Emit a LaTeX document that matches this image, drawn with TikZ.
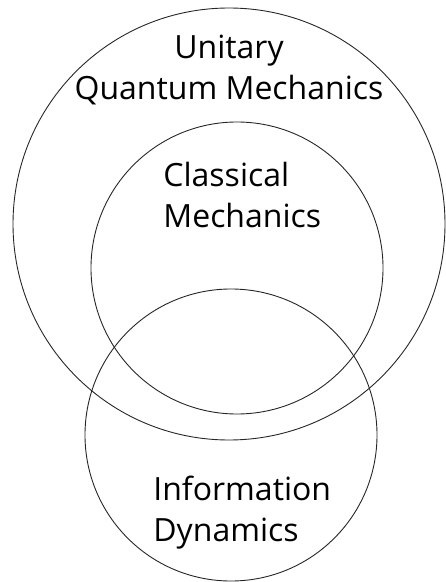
\documentclass[tikz,border=0pt]{standalone}
\usepackage{fontspec}
\setmainfont{Open Sans}
\usetikzlibrary{positioning}
\tikzset{
  realm/.style={circle, draw=black!85, line width=0.45pt, inner sep=0pt},
  realmlabel/.style={font=\fontsize{16}{20.5}\selectfont, inner sep=0pt},
}
\begin{document}
\begin{tikzpicture}[x=0.5pt, y=-0.5pt]
\useasboundingbox (0,0) rectangle (445,582);

% ---- domains ----
\node[realm, minimum size=216pt] (uqm) at (229,224) {};
\node[realm, minimum size=146pt] (cm)  at (237,268) {};
\node[realm, minimum size=146pt] (id)  at (231,435) {};

% ---- labels ----
\node[realmlabel, align=center, anchor=north] (uqmtext) at (229,35) {Unitary\\Quantum Mechanics};
\node[realmlabel, align=left, anchor=north west] (cmtext) at (163,162) {Classical\\Mechanics};
\node[realmlabel, align=left, anchor=north west] (idtext) at (153,476) {Information\\Dynamics};

\end{tikzpicture}
\end{document}
